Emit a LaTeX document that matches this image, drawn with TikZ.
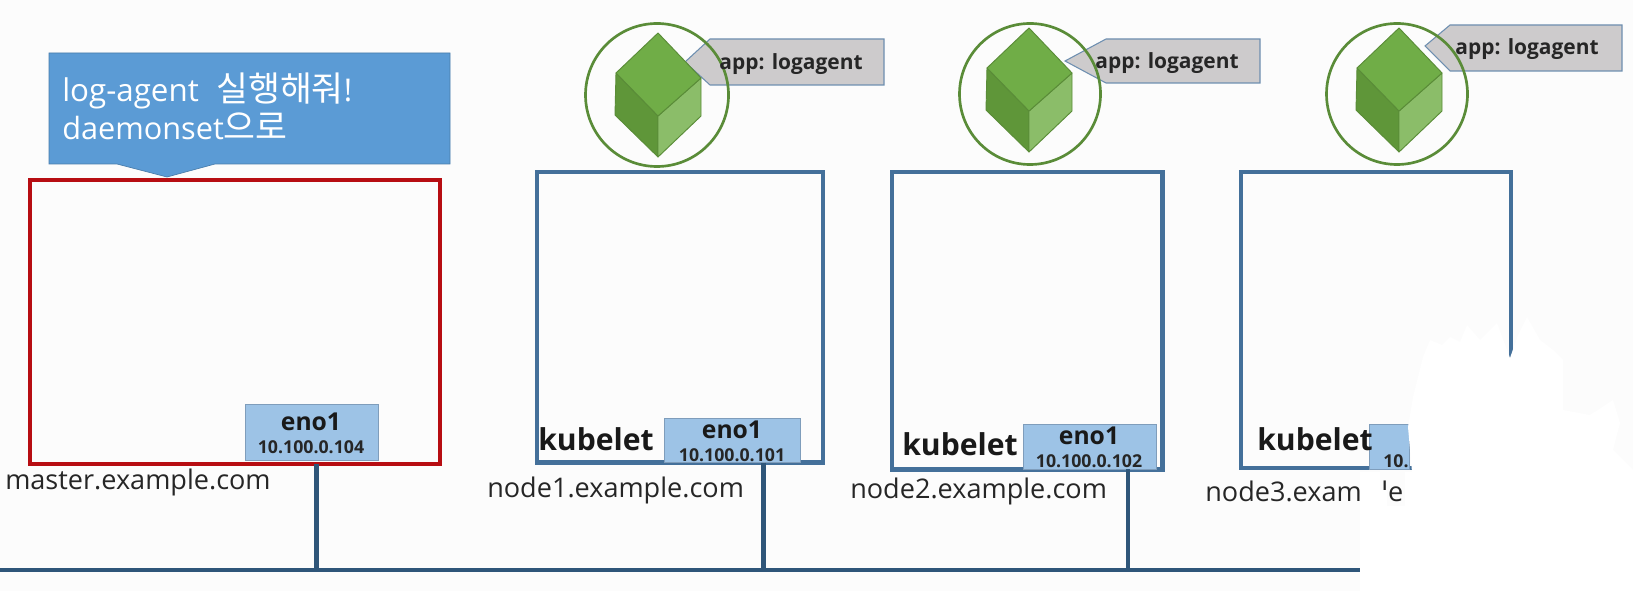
\documentclass[tikz,border=0pt]{standalone}
\usepackage{fontspec}
\setmainfont{Open Sans}
\newfontfamily\krfont{Noto Sans CJK KR}
\definecolor{pagebg}{HTML}{FCFCFC}
\definecolor{nodeblue}{HTML}{44709A}
\definecolor{barblue}{HTML}{2F5679}
\definecolor{masterred}{HTML}{B70D12}
\definecolor{callblue}{HTML}{5B9BD5}
\definecolor{enofill}{HTML}{9DC3E6}
\definecolor{enoline}{HTML}{7F9DBB}
\definecolor{labelgray}{HTML}{CDCBCC}
\definecolor{labelline}{HTML}{6E8FB0}
\definecolor{cubetop}{HTML}{70AD47}
\definecolor{cubeleft}{HTML}{5F9639}
\definecolor{cuberight}{HTML}{8BBD69}
\definecolor{cubeline}{HTML}{5A8C38}
\tikzset{
  x=0.75pt,y=-0.75pt,
  hostbox/.style={draw=nodeblue,line width=3.4pt,fill=pagebg,inner sep=0pt,outer sep=0pt,anchor=north west},
  masterbox/.style={hostbox,draw=masterred},
  enobox/.style={draw=enoline,line width=0.6pt,fill=enofill,inner sep=0pt,outer sep=0pt,anchor=north west},
  enotitle/.style={font=\bfseries\fontsize{18.5}{21}\selectfont,text=black!90,inner sep=0pt},
  enoip/.style={font=\bfseries\fontsize{13.3}{15}\selectfont,text=black!85,inner sep=0pt},
  kube/.style={font=\bfseries\fontsize{22.6}{26}\selectfont,text=black!90,inner sep=0pt},
  hostname/.style={font=\fontsize{20.3}{24}\selectfont,text=black!85,inner sep=0pt,anchor=west},
  applabel/.style={font=\bfseries\fontsize{15.7}{18}\selectfont,text=black!85,inner sep=0pt},
  tagshape/.style={draw=labelline,line width=0.8pt,fill=labelgray},
  ring/.style={draw=cubeline,line width=2pt,circle,inner sep=0pt,outer sep=0pt,minimum size=#1},
  cubeedge/.style={draw=cubeline,line width=0.7pt,line join=round},
  wire/.style={draw=barblue,line width=3.2pt},
}
\newcommand{\cubeat}[2]{%
  \begin{scope}[shift={(#1,#2)}]
    \fill[cubeleft,cubeedge] (-42,-22) -- (0,21) -- (0,62) -- (-43,20) -- cycle;
    \fill[cuberight,cubeedge] (43,-17) -- (0,21) -- (0,62) -- (43,21) -- cycle;
    \fill[cubetop,cubeedge] (0,-62) -- (43,-17) -- (0,21) -- (-42,-22) -- cycle;
  \end{scope}}
\begin{document}
\begin{tikzpicture}
\useasboundingbox (0,0) rectangle (1633,591);
\fill[pagebg] (0,0) rectangle (1633,591);

% hosts
\node[masterbox,minimum width=307.5pt,minimum height=213pt] (master) at (30,180) {};
\node[hostbox,minimum width=214.5pt,minimum height=218pt] (n1) at (537,172) {};
\node[hostbox,minimum width=203pt,minimum height=223pt] (n2) at (892,172) {};
\node[hostbox,minimum width=202.5pt,minimum height=222pt] (n3) at (1241,172) {};

% eno
\node[enobox,minimum width=100pt,minimum height=42pt] (e0) at (245,404) {};
\node[enotitle] (e0t) at (311,422) {eno1};
\node[enoip] (e0i) at (311,447) {10.100.0.104};
\node[enobox,minimum width=102pt,minimum height=33pt] (e1) at (664,418) {};
\node[enotitle] (e1t) at (732,430) {eno1};
\node[enoip] (e1i) at (732,455) {10.100.0.101};
\node[enobox,minimum width=100pt,minimum height=34pt] (e2) at (1023,424) {};
\node[enotitle] (e2t) at (1089,436) {eno1};
\node[enoip] (e2i) at (1089,461) {10.100.0.102};
\node[enobox,minimum width=30pt,minimum height=34pt] (e3) at (1369,424) {};
\node[enoip] (e3i) at (1396,461) {10.};

% kubelet
\node[kube] (k1) at (596,439) {kubelet};
\node[kube] (k2) at (960,444) {kubelet};
\node[kube] (k3) at (1315,439) {kubelet};

% host names
\node[hostname] (hm) at (5,482) {master.example.com};
\node[hostname] (h1) at (487,490) {node1.example.com};
\node[hostname] (h2) at (850,491) {node2.example.com};
\node[hostname] (h3) at (1205,491) {node3.exam};
\node[hostname] (h3b) at (1381,491) {le.};

% network
\coordinate (busL) at (0,570);
\coordinate (busR) at (1360,570);
\coordinate (tap0) at (316.6,570);
\coordinate (tap1) at (763.5,570);
\coordinate (tap2) at (1128,570);
\draw[wire] (busL) -- (busR);
\draw[wire] (tap0 |- master.south) -- (tap0);
\draw[wire] (tap1 |- n1.south) -- (tap1);
\draw[wire] (tap2 |- n2.south) -- (tap2);

% callout
\fill[callblue,draw=callblue!80!black,line width=0.5pt] (49,53) -- (450,53) -- (450,164) -- (215,164) -- (167,177) -- (117,164) -- (49,164) -- cycle;
\node[anchor=west,inner sep=0pt,text=white,font=\fontsize{23.5}{29}\selectfont] (say1) at (62,91) {log-agent\hspace{7pt} {\krfont\fontsize{26}{29}\selectfont 실행해줘}!};
\node[anchor=west,inner sep=0pt,text=white,font=\fontsize{23}{29}\selectfont] (say2) at (62,126) {daemonset{\krfont\fontsize{26}{29}\selectfont 으로}};

% tags
\draw[tagshape] (685,62) -- (710,39) -- (884,39) -- (884,85) -- (710,85) -- cycle;
\draw[tagshape] (1065,61) -- (1106,39) -- (1260,39) -- (1260,83) -- (1106,83) -- cycle;
\draw[tagshape] (1425,46) -- (1450,25) -- (1622,25) -- (1622,71) -- (1450,71) -- cycle;

% pods
\node[ring=143*0.75pt] (p1) at (657,95) {};
\node[ring=141*0.75pt] (p2) at (1030,94) {};
\node[ring=141*0.75pt] (p3) at (1397,94) {};
\cubeat{658}{95}
\cubeat{1029}{90}
\cubeat{1399}{90}

\node[applabel] (a1) at (791,64) {app: logagent};
\node[applabel] (a2) at (1167,63) {app: logagent};
\node[applabel] (a3) at (1527,49) {app: logagent};

% erased area
\fill[white] (1360,591) -- (1360,472) -- (1380,472) -- (1380,490) -- (1387,490) -- (1387,506) -- (1405,506) -- (1405,472) -- (1412,472) -- (1408,427) -- (1413,397) -- (1423,357) -- (1430,340) -- (1442,345) -- (1450,337) -- (1460,342) -- (1467,325) -- (1480,340) -- (1497,323) -- (1510,358) -- (1518,335) -- (1527,317) -- (1540,340) -- (1553,350) -- (1563,360) -- (1563,410) -- (1590,415) -- (1613,400) -- (1620,423) -- (1613,450) -- (1633,470) -- (1633,591) -- cycle;
\end{tikzpicture}
\end{document}
